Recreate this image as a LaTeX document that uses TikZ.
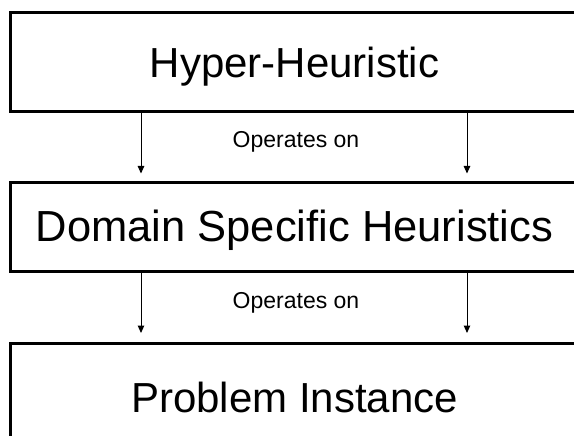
\documentclass[tikz,border=0pt]{standalone}
\usepackage{fontspec}
\setmainfont{Liberation Sans}
\usetikzlibrary{arrows.meta}
\tikzset{
  layerbox/.style={draw=black, line width=3pt, fill=white, minimum width=568pt,
    inner sep=0pt, text height=30pt, text depth=0pt,
    font=\fontsize{42}{50}\selectfont},
  relation/.style={inner sep=0pt, anchor=base, font=\fontsize{23}{27}\selectfont},
  flow/.style={draw=black, line width=1pt, -{Triangle[width=6.5pt,length=7.5pt]}}
}
\begin{document}
\begin{tikzpicture}[x=1pt,y=-1pt]
\useasboundingbox (0,0) rectangle (574,436);
\clip (0,0) rectangle (574,436);
\fill[white] (0,0) rectangle (574,436);

% the three levels
\node[layerbox, minimum height=99.5pt] (hh)  at (294.5,62.25) {Hyper-Heuristic};
\node[layerbox, minimum height=88.5pt, font=\fontsize{43.5}{50}\selectfont] (dsh) at (294.5,226.75) {Domain Specific Heuristics};
\node[layerbox, minimum height=107pt]  (pi)  at (294.5,397) {Problem Instance};

% columns of the arrows
\coordinate (lx) at (141,0);
\coordinate (rx) at (467,0);

% arrows between the levels
\draw[flow, shorten >=7.5pt] (hh.south -| lx) -- (dsh.north -| lx);
\draw[flow, shorten >=7.5pt] (hh.south -| rx) -- (dsh.north -| rx);
\draw[flow, shorten >=9pt] (dsh.south -| lx) -- (pi.north -| lx);
\draw[flow, shorten >=9pt] (dsh.south -| rx) -- (pi.north -| rx);

% labels of the arrows
\node[relation] (op1) at (296,148) {Operates on};
\node[relation] (op2) at (296,308) {Operates on};
\end{tikzpicture}
\end{document}
